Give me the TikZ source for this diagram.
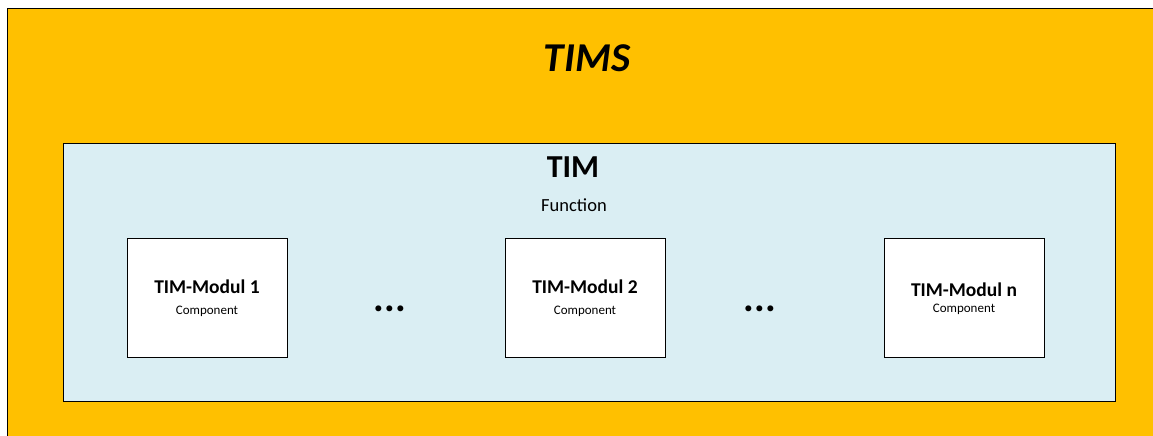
\documentclass[tikz,border=0pt]{standalone}
\usepackage{fontspec}
\setmainfont{Carlito}
\definecolor{timsorange}{HTML}{FFC000}
\definecolor{timblue}{HTML}{DAEEF3}
\tikzset{
  px/.style={x=1pt,y=-1pt},
  container/.style={draw=black,line width=0.9pt,inner sep=0pt,anchor=north west},
  modulbox/.style={draw=black,line width=0.9pt,fill=white,minimum width=160pt,minimum height=119pt,inner sep=0pt,anchor=north west},
  modultitle/.style={font=\fontsize{19.5}{22}\selectfont\bfseries},
  modulsub/.style={font=\fontsize{13}{15}\selectfont},
  dots/.style={font=\fontsize{40}{44}\selectfont\bfseries,inner sep=0pt}
}
\begin{document}
\begin{tikzpicture}[px]
\useasboundingbox (0,0) rectangle (1153,436);
\clip (0,0) rectangle (1153,436);
\fill[white] (0,0) rectangle (1153,436);
% outer system frame
\node[container,fill=timsorange,minimum width=1200pt,minimum height=480pt] (tims) at (7,8) {};
\node[font=\fontsize{41}{46}\selectfont\bfseries\itshape] (timslabel) at (587,58) {TIMS};
% function frame
\node[container,fill=timblue,minimum width=1052pt,minimum height=258pt] (tim) at (63,143) {};
\node[font=\fontsize{32}{36}\selectfont\bfseries] (timlabel) at (573,167) {TIM};
\node[font=\fontsize{18.5}{21}\selectfont] (function) at (574,205) {Function};
% modules
\node[modulbox] (m1) at (127,238) {};
\node[modulbox] (m2) at (505,238) {};
\node[modulbox] (mn) at (884,238) {};
\node[modultitle] (m1t) at (207,287) {TIM-Modul 1};
\node[modulsub] (m1s) at (207,311) {Component};
\node[modultitle] (m2t) at (585,287) {TIM-Modul 2};
\node[modulsub] (m2s) at (585,311) {Component};
\node[modultitle] (mnt) at (964,290) {TIM-Modul n};
\node[modulsub] (mns) at (964,309) {Component};
% ellipses between modules
\node[dots,anchor=base] (dots1) at (390,311) {...};
\node[dots,anchor=base] (dots2) at (760,311) {...};
\end{tikzpicture}
\end{document}
